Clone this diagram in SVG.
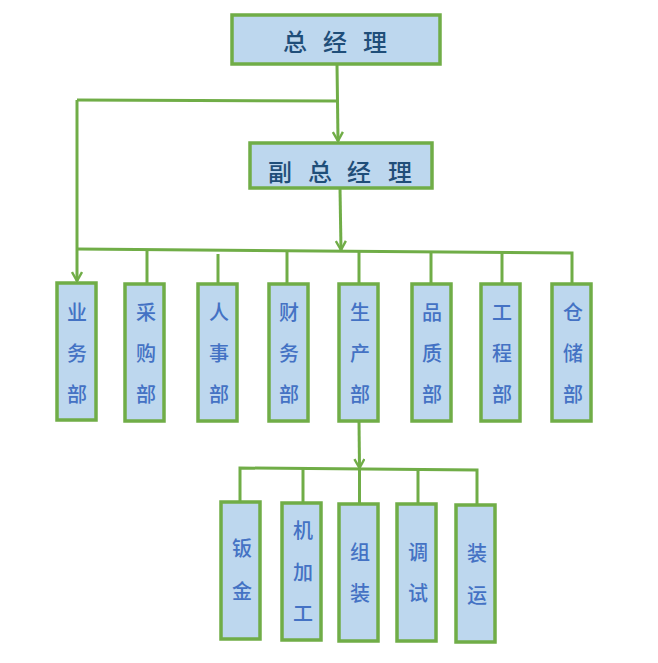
<svg xmlns="http://www.w3.org/2000/svg" width="658" height="663" viewBox="0 0 658 663">
<defs>
<marker id="arr" viewBox="0 0 12 12" refX="10" refY="6" markerWidth="12" markerHeight="12" markerUnits="userSpaceOnUse" orient="auto">
<polyline points="1,1 10,6 1,11" fill="none" stroke="#70AD47" stroke-width="2.4"/>
</marker>
<style>
.box{fill:#BDD7EE;stroke:#70AD47;stroke-width:3.5}
.ln{fill:none;stroke:#70AD47;stroke-width:3}
.t1{font-family:"Noto Sans CJK SC","Noto Sans",sans-serif;font-size:24px;font-weight:500;fill:#1F4E79;text-anchor:middle;dominant-baseline:central}
.t2{font-family:"Noto Sans CJK SC","Noto Sans",sans-serif;font-size:20px;font-weight:500;fill:#4472C4;text-anchor:middle;dominant-baseline:central}
</style>
</defs>
<rect width="658" height="663" fill="#FFFFFF"/>
<g id="connectors">
<polyline class="ln" points="337,65 337.5,101 77,100"/>
<line class="ln" x1="337.5" y1="101" x2="338" y2="141" marker-end="url(#arr)"/>
<line class="ln" x1="340" y1="188" x2="341" y2="250" marker-end="url(#arr)"/>
<line class="ln" x1="77" y1="100" x2="77" y2="281" marker-end="url(#arr)"/>
<polyline class="ln" points="77,249 572,253 572,283"/>
<line class="ln" x1="147" y1="250" x2="147" y2="283"/>
<line class="ln" x1="218" y1="254" x2="218" y2="283"/>
<line class="ln" x1="287" y1="251" x2="287" y2="283"/>
<line class="ln" x1="359" y1="251" x2="359" y2="283"/>
<line class="ln" x1="431" y1="252" x2="431" y2="283"/>
<line class="ln" x1="502" y1="252" x2="502" y2="283"/>
<line class="ln" x1="359" y1="421" x2="359.5" y2="468" marker-end="url(#arr)"/>
<polyline class="ln" points="240,501 240,468 477,470 477,505"/>
<line class="ln" x1="303" y1="468" x2="303" y2="502"/>
<line class="ln" x1="359.5" y1="469" x2="359.5" y2="503"/>
<line class="ln" x1="418" y1="469" x2="418" y2="503"/>
</g>
<g id="n-gm">
<rect class="box" x="232" y="15" width="208" height="49"/>
<text class="t1" x="295 335 375" y="40">总经理</text>
</g>
<g id="n-vgm">
<rect class="box" x="250" y="143" width="182" height="45"/>
<text class="t1" x="280 320 359 400" y="170">副总经理</text>
</g>
<g id="n-yw">
<rect class="box" x="57" y="283" width="39" height="137"/>
<text class="t2" x="77 77 77" y="311 352 393">业务部</text>
</g>
<g id="n-cg">
<rect class="box" x="125" y="284" width="39" height="137"/>
<text class="t2" x="146 146 146" y="311 352 393">采购部</text>
</g>
<g id="n-rs">
<rect class="box" x="198" y="284" width="39" height="137"/>
<text class="t2" x="219 219 219" y="311 352 393">人事部</text>
</g>
<g id="n-cw">
<rect class="box" x="269" y="284" width="39" height="137"/>
<text class="t2" x="289 289 289" y="311 352 393">财务部</text>
</g>
<g id="n-sc">
<rect class="box" x="339" y="284" width="39" height="137"/>
<text class="t2" x="360 360 360" y="311 352 393">生产部</text>
</g>
<g id="n-pz">
<rect class="box" x="412" y="284" width="39" height="137"/>
<text class="t2" x="432 432 432" y="311 352 393">品质部</text>
</g>
<g id="n-gc">
<rect class="box" x="481" y="284" width="39" height="137"/>
<text class="t2" x="502 502 502" y="311 352 393">工程部</text>
</g>
<g id="n-cc">
<rect class="box" x="552" y="284" width="39" height="137"/>
<text class="t2" x="573 573 573" y="311 352 393">仓储部</text>
</g>
<g id="n-bj">
<rect class="box" x="221" y="502" width="39" height="137"/>
<text class="t2" x="242 242" y="547 590">钣金</text>
</g>
<g id="n-jjg">
<rect class="box" x="282" y="503" width="39" height="137"/>
<text class="t2" x="303 303 303" y="529 571 612">机加工</text>
</g>
<g id="n-zz">
<rect class="box" x="339" y="504" width="39" height="137"/>
<text class="t2" x="360 360" y="551 592">组装</text>
</g>
<g id="n-ts">
<rect class="box" x="397" y="504" width="39" height="137"/>
<text class="t2" x="418 418" y="551 592">调试</text>
</g>
<g id="n-zy">
<rect class="box" x="456" y="505" width="39" height="137"/>
<text class="t2" x="477 477" y="552 594">装运</text>
</g>
</svg>
